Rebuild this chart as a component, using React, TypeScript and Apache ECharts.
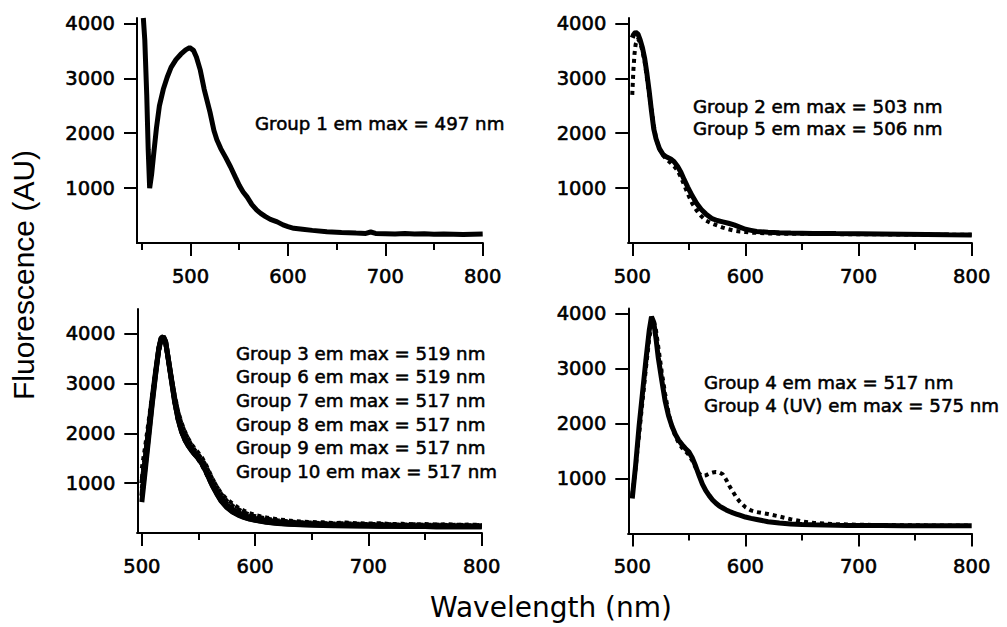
import React, { useEffect, useRef } from "react";
import * as echarts from "echarts";

// ---------- Data ----------
const p1Wl = [451.5, 453, 455, 456.5, 458, 460, 462, 465, 468, 472, 476, 480, 485, 490, 495, 499, 503, 506, 510, 514, 517, 520, 524, 527, 531, 536, 541, 546, 550, 554, 558, 563, 568, 572, 577, 582, 589, 595, 600, 606, 615, 625, 640, 655, 670, 680, 685, 690, 700, 710, 720, 730, 740, 750, 760, 770, 780, 790, 800];
const group1 = [4100, 3700, 2700, 1700, 1000, 1250, 1600, 2100, 2500, 2800, 3020, 3200, 3340, 3440, 3520, 3560, 3510, 3390, 3150, 2800, 2590, 2380, 2050, 1880, 1720, 1560, 1390, 1200, 1050, 930, 840, 700, 600, 540, 480, 430, 385, 330, 300, 268, 250, 230, 205, 190, 180, 175, 200, 175, 170, 165, 175, 165, 170, 160, 165, 160, 155, 160, 165];

const p2Wl = [500, 501, 502, 503, 505, 507, 509, 511, 513, 515, 517, 519, 521, 524, 527, 530, 534, 537, 540, 543, 546, 549, 553, 557, 561, 565, 570, 575, 580, 585, 590, 595, 600, 605, 610, 620, 630, 640, 660, 680, 700, 720, 740, 760, 780, 800];
const group2 = [3740, 3790, 3820, 3840, 3810, 3700, 3560, 3360, 3080, 2760, 2400, 2080, 1900, 1720, 1620, 1570, 1530, 1480, 1400, 1290, 1150, 1020, 860, 720, 610, 530, 450, 410, 385, 360, 330, 290, 250, 230, 210, 195, 185, 180, 175, 172, 170, 165, 160, 155, 150, 148];
const group5 = [2700, 3150, 3450, 3620, 3720, 3650, 3500, 3300, 3000, 2700, 2450, 2150, 1900, 1720, 1600, 1530, 1460, 1400, 1320, 1200, 1050, 900, 720, 590, 490, 410, 360, 320, 280, 250, 225, 210, 200, 190, 185, 175, 170, 170, 165, 162, 160, 158, 155, 152, 150, 150];

const p3Wl = [500, 503, 506, 509, 512, 515, 517, 519, 521, 523, 526, 529, 532, 535, 538, 541, 544, 547, 550, 553, 556, 559, 562, 566, 570, 575, 580, 585, 590, 595, 600, 610, 620, 630, 640, 650, 660, 670, 680, 690, 700, 710, 720, 730, 740, 750, 760, 770, 780, 790, 800];
const group3 = [620, 1250, 1900, 2550, 3150, 3700, 3900, 3950, 3850, 3550, 3100, 2650, 2300, 2050, 1880, 1760, 1660, 1580, 1500, 1400, 1270, 1120, 970, 800, 650, 520, 430, 370, 320, 285, 260, 220, 195, 180, 170, 162, 155, 150, 148, 145, 140, 138, 136, 134, 132, 130, 128, 127, 126, 125, 125];
const group6 = [1300, 1750, 2250, 2750, 3250, 3650, 3820, 3880, 3780, 3500, 3150, 2780, 2450, 2220, 2040, 1900, 1780, 1690, 1610, 1520, 1400, 1260, 1110, 940, 790, 650, 550, 480, 420, 370, 340, 290, 255, 235, 215, 210, 200, 190, 200, 185, 180, 185, 175, 170, 175, 165, 170, 160, 165, 155, 160];
const group7 = [900, 1450, 2050, 2650, 3200, 3680, 3870, 3920, 3820, 3520, 3050, 2600, 2250, 2020, 1860, 1740, 1640, 1560, 1470, 1360, 1230, 1090, 950, 800, 680, 560, 480, 420, 380, 330, 300, 270, 240, 220, 210, 200, 195, 185, 190, 175, 175, 170, 170, 160, 165, 155, 160, 150, 150, 148, 145];
const group8 = [750, 1350, 1980, 2600, 3180, 3720, 3920, 3940, 3830, 3540, 3080, 2630, 2280, 2040, 1870, 1750, 1650, 1570, 1490, 1390, 1260, 1110, 960, 790, 640, 510, 420, 360, 315, 280, 255, 215, 190, 178, 168, 160, 153, 148, 145, 142, 140, 137, 135, 133, 131, 129, 128, 126, 125, 124, 124];
const group9 = [1100, 1600, 2150, 2700, 3230, 3670, 3850, 3900, 3800, 3510, 3130, 2760, 2440, 2200, 2030, 1890, 1760, 1660, 1580, 1490, 1380, 1240, 1100, 940, 800, 680, 590, 510, 450, 400, 360, 310, 275, 250, 230, 220, 215, 200, 210, 195, 190, 195, 180, 185, 175, 180, 170, 175, 165, 170, 160];
const group10 = [1000, 1500, 2100, 2680, 3220, 3700, 3890, 3930, 3840, 3560, 3120, 2680, 2330, 2080, 1910, 1790, 1680, 1600, 1520, 1420, 1290, 1150, 1000, 840, 700, 570, 480, 410, 360, 320, 290, 250, 225, 205, 195, 185, 178, 172, 168, 165, 160, 158, 155, 153, 150, 148, 146, 144, 142, 140, 140];

const p4Wl = [500, 503, 506, 509, 512, 515, 517, 519, 521, 523, 526, 529, 532, 535, 538, 541, 544, 547, 550, 553, 556, 559, 562, 565, 568, 571, 574, 577, 580, 583, 586, 589, 592, 595, 600, 605, 610, 620, 630, 640, 650, 660, 670, 680, 690, 700, 720, 740, 760, 780, 800];
const group4 = [640, 1250, 1950, 2550, 3150, 3700, 3950, 3850, 3550, 3200, 2800, 2420, 2150, 1960, 1810, 1700, 1620, 1550, 1490, 1380, 1230, 1060, 900, 780, 690, 610, 550, 500, 465, 430, 400, 375, 355, 335, 300, 275, 255, 215, 190, 175, 165, 158, 153, 150, 148, 146, 144, 142, 140, 140, 140];
const group4UV = [700, 1200, 1800, 2400, 3000, 3550, 3800, 3870, 3700, 3400, 2950, 2550, 2200, 1950, 1780, 1650, 1560, 1500, 1430, 1330, 1200, 1090, 1050, 1060, 1090, 1110, 1120, 1110, 1080, 980, 860, 760, 660, 580, 480, 420, 390, 355, 310, 260, 220, 195, 180, 170, 165, 160, 155, 150, 148, 145, 145];

const yTickValues = [1000, 2000, 3000, 4000];
const xMajorTicks = [500, 600, 700, 800];
const xMinorTicksP1 = [450, 550, 650, 750];
const xMinorTicks = [550, 650, 750];

const p1Notes = ["Group 1 em max = 497 nm"];
const p2Notes = ["Group 2 em max = 503 nm", "Group 5 em max = 506 nm"];
const p3Notes = [
  "Group 3 em max = 519 nm",
  "Group 6 em max = 519 nm",
  "Group 7 em max = 517 nm",
  "Group 8 em max = 517 nm",
  "Group 9 em max = 517 nm",
  "Group 10 em max = 517 nm",
];
const p4Notes = ["Group 4 em max = 517 nm", "Group 4 (UV) em max = 575 nm"];

// ---------- Styling ----------
const FONT = "DejaVu Sans";
const pair = (wl: number[], v: number[]) => wl.map((w, i) => [w, v[i]]);

export default function App() {
  const ref = useRef<HTMLDivElement>(null);

  useEffect(() => {
    if (!ref.current) return;
    const chart = echarts.init(ref.current, undefined, { renderer: "svg" });

    const grids = [
      { left: 137, top: 18, width: 345.7, height: 225, xMin: 445, yMax: 4100, minor: xMinorTicksP1 },
      { left: 628.3, top: 18, width: 343.4, height: 225, xMin: 496.5, yMax: 4100, minor: xMinorTicks },
      { left: 137.3, top: 309, width: 344.4, height: 224, xMin: 496, yMax: 4500, minor: xMinorTicks },
      { left: 628.3, top: 308.5, width: 343.4, height: 225, xMin: 496.5, yMax: 4100, minor: xMinorTicks },
    ];

    const axisLineStyle = { color: "#000", width: 2 };
    const labelStyle = {
      color: "#000",
      fontSize: 19.5,
      fontFamily: FONT,
      textBorderColor: "#000",
      textBorderWidth: 0.6,
      formatter: (v: number) => String(v),
    };
    const xAxis: any[] = [];
    const yAxis: any[] = [];
    grids.forEach((g, i) => {
      xAxis.push({
        type: "value",
        gridIndex: i,
        position: "bottom",
        min: g.xMin,
        max: 800,
        axisLine: { show: true, onZero: false, lineStyle: axisLineStyle },
        axisTick: { show: true, customValues: g.minor, length: 7, lineStyle: axisLineStyle },
        axisLabel: { show: false },
        splitLine: { show: false },
      });
      xAxis.push({
        type: "value",
        gridIndex: i,
        position: "bottom",
        min: g.xMin,
        max: 800,
        axisLine: { show: true, onZero: false, lineStyle: axisLineStyle },
        axisTick: { show: true, customValues: xMajorTicks, length: 13, lineStyle: axisLineStyle },
        axisLabel: { show: true, customValues: xMajorTicks, margin: 23, ...labelStyle },
        splitLine: { show: false },
      });
      yAxis.push({
        type: "value",
        gridIndex: i,
        min: 0,
        max: g.yMax,
        axisLine: { show: true, onZero: false, lineStyle: axisLineStyle },
        axisTick: { show: true, customValues: yTickValues, length: 13, lineStyle: axisLineStyle },
        axisLabel: { show: true, customValues: yTickValues, margin: 22, ...labelStyle },
        splitLine: { show: false },
      });
    });

    const solid = { color: "#000", width: 5, type: "solid" as const };
    const dotted = { color: "#000", width: 4, type: [4, 4], cap: "butt" as const };
    const mk = (gi: number, data: number[][], style: any) => ({
      type: "line",
      xAxisIndex: gi * 2,
      yAxisIndex: gi,
      data,
      showSymbol: false,
      symbol: "none",
      lineStyle: style,
      clip: true,
      z: 2,
    });

    const series = [
      mk(0, pair(p1Wl, group1), solid),
      mk(1, pair(p2Wl, group5), dotted),
      mk(1, pair(p2Wl, group2), solid),
      mk(2, pair(p3Wl, group6), dotted),
      mk(2, pair(p3Wl, group9), dotted),
      mk(2, pair(p3Wl, group7), dotted),
      mk(2, pair(p3Wl, group10), solid),
      mk(2, pair(p3Wl, group8), solid),
      mk(2, pair(p3Wl, group3), solid),
      mk(3, pair(p4Wl, group4UV), dotted),
      mk(3, pair(p4Wl, group4), solid),
    ];

    const noteText = (lines: string[], x: number, y0: number, dy: number) =>
      lines.map((t, k) => ({
        type: "text",
        x,
        y: y0 + k * dy,
        style: {
          text: t,
          fill: "#000",
          stroke: "#000",
          lineWidth: 0.55,
          fontSize: 18.2,
          lineHeight: 19,
          fontFamily: FONT,
          align: "left",
          verticalAlign: "middle",
        },
      }));

    const graphic: any[] = [
      ...noteText(p1Notes, 255, 123, 0),
      ...noteText(p2Notes, 693, 106.5, 22),
      ...noteText(p3Notes, 236, 353, 23.7),
      ...noteText(p4Notes, 704, 382.5, 23),
      {
        type: "text",
        x: 23,
        y: 275,
        rotation: Math.PI / 2,
        style: {
          text: "Fluorescence (AU)",
          fill: "#000",
          fontSize: 30,
          fontFamily: "Liberation Sans",
          align: "center",
          verticalAlign: "middle",
        },
      },
      {
        type: "text",
        x: 551,
        y: 607,
        style: {
          text: "Wavelength (nm)",
          fill: "#000",
          fontSize: 28,
          fontFamily: FONT,
          align: "center",
          verticalAlign: "middle",
        },
      },
    ];

    chart.setOption({
      animation: false,
      backgroundColor: "#fff",
      grid: grids.map((g) => ({ left: g.left, top: g.top, width: g.width, height: g.height })),
      xAxis,
      yAxis,
      series,
      graphic,
    });

    return () => chart.dispose();
  }, []);

  return (
    <div
      ref={ref}
      style={{ position: "fixed", left: 0, top: 0, width: 1007, height: 627 }}
    />
  );
}
